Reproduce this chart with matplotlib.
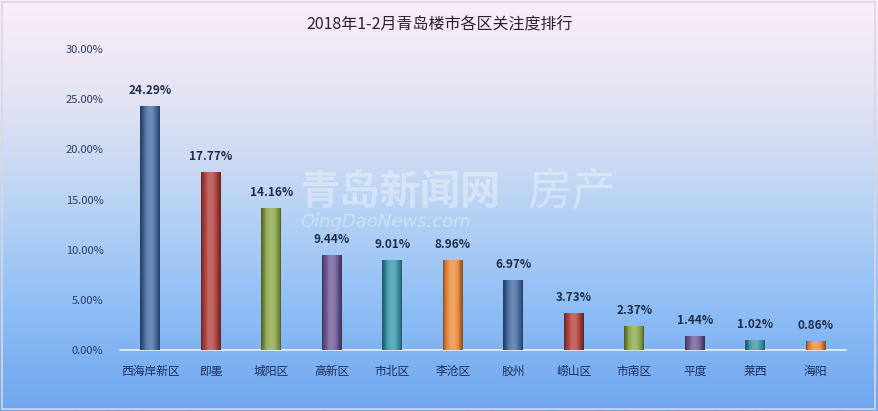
import numpy as np
import matplotlib
matplotlib.use("Agg")
import matplotlib.pyplot as plt
from matplotlib.colors import LinearSegmentedColormap, to_rgb

plt.rcParams['font.family'] = ['Noto Sans CJK SC', 'DejaVu Sans']

# data
districts = ["西海岸新区", "即墨", "城阳区", "高新区", "市北区", "李沧区",
             "胶州", "崂山区", "市南区", "平度", "莱西", "海阳"]
attention = [24.29, 17.77, 14.16, 9.44, 9.01, 8.96, 6.97, 3.73, 2.37, 1.44, 1.02, 0.86]
yticks = [0, 5, 10, 15, 20, 25, 30]
title = "2018年1-2月青岛楼市各区关注度排行"

palette = ["#44699e", "#b0403d", "#8aa447", "#6b5794", "#3a93a8", "#e7883a"]
bar_colors = [palette[i % len(palette)] for i in range(len(districts))]

fig = plt.figure(figsize=(8.79, 4.11), dpi=100)

# background gradient over the whole figure
bg = fig.add_axes([0, 0, 1, 1], zorder=-10)
grad = LinearSegmentedColormap.from_list(
    "bg", ["#fcedf9", "#e2e3f4", "#b9d3f3", "#8fbef6", "#6fa6ee"])
bg.imshow(np.linspace(0, 1, 256).reshape(-1, 1), aspect="auto", cmap=grad,
          extent=[0, 1, 0, 1])
bg.set_axis_off()
fig.patches.append(plt.Rectangle((0.002, 0.004), 0.994, 0.99, transform=fig.transFigure,
                                 fill=False, ec="#d8d8e0", lw=1.2))

ax = fig.add_axes([120 / 879, (411 - 350) / 411, 726 / 879, 301 / 411])
ax.patch.set_alpha(0)
x = np.arange(len(districts))

# cylinder-ish shading: stack narrower bars, lighter toward the middle
base_w = 0.33
n_layers = 12
for k in range(n_layers):
    frac = 1 - k / n_layers
    amt = -0.4 + 0.62 * np.sin(0.5 * np.pi * k / (n_layers - 1))
    cols = []
    for c in bar_colors:
        r = np.array(to_rgb(c))
        r = r + (1 - r) * amt if amt > 0 else r * (1 + amt)
        cols.append(tuple(np.clip(r, 0, 1)))
    ax.bar(x, attention, width=base_w * frac, color=cols, zorder=3, lw=0)

for xi, v in zip(x, attention):
    ax.text(xi, v + 0.9, f"{v:.2f}%", ha="center", va="bottom", fontsize=8.5,
            fontweight="bold", color="#1f2c48", zorder=5)

ax.set_xlim(-0.5, len(districts) - 0.5)
ax.set_ylim(0, 30)
ax.set_yticks(yticks)
ax.set_yticklabels([f"{t:.2f}%" for t in yticks], fontsize=8, color="#2a3a66")
ax.set_xticks(x)
ax.set_xticklabels(districts, fontsize=8.5, color="#1c2d5c")
ax.tick_params(axis="both", length=0)
ax.tick_params(axis="y", pad=12)
ax.tick_params(axis="x", pad=11)
for s in ["top", "right", "left"]:
    ax.spines[s].set_visible(False)
ax.spines["bottom"].set_color("#e8f2ff")
ax.spines["bottom"].set_linewidth(1.2)

fig.text(0.5, 1 - 25 / 411, title, ha="center", va="center", fontsize=11.5,
         color="#2a2030")

# faint site watermark
fig.text(300 / 879, 1 - 192 / 411, "青岛新闻网", fontsize=29, fontweight="bold",
         color="white", alpha=0.35, va="center", zorder=10)
fig.text(528 / 879, 1 - 192 / 411, "房产", fontsize=32, style="italic",
         color="white", alpha=0.35, va="center", zorder=10)
fig.text(300 / 879, 1 - 222 / 411, "QingDaoNews.com", fontsize=13, style="italic",
         color="white", alpha=0.3, va="center", zorder=10, family="DejaVu Sans")

fig.savefig("out.png", dpi=100)
